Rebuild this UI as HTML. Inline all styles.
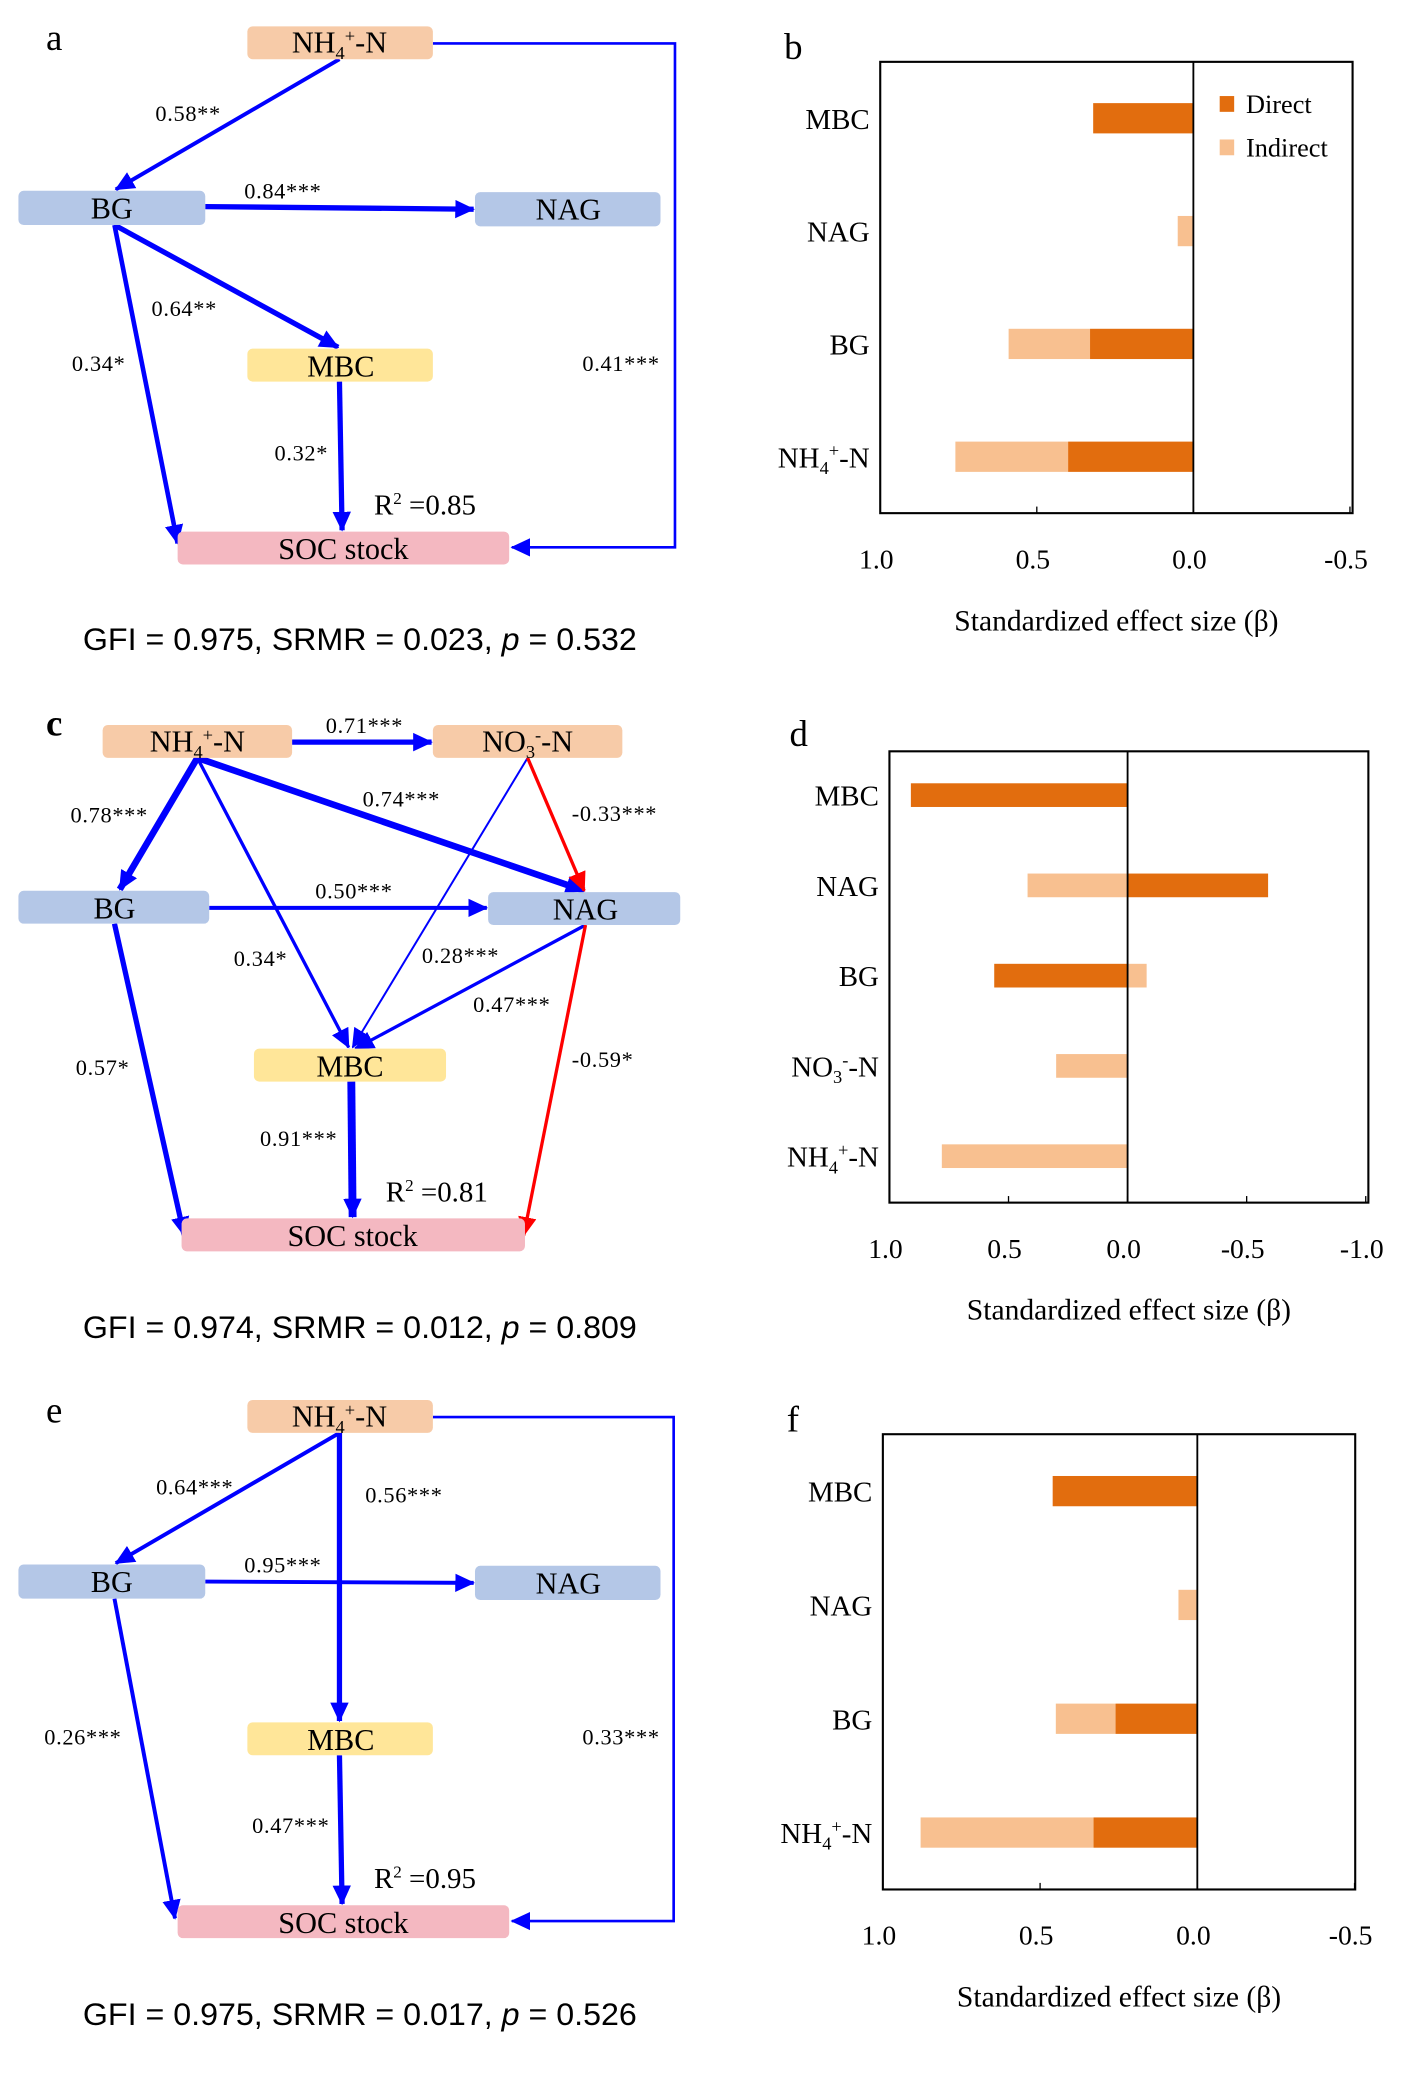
<!DOCTYPE html>
<html><head><meta charset="utf-8"><style>
html,body{margin:0;padding:0;background:#fff;}
svg{display:block;}
text{font-family:"Liberation Serif",serif;fill:#000;}
.node{font-size:23px;}
.el{font-size:17px;letter-spacing:0.5px;}
.gfi{font-family:"Liberation Sans",sans-serif;font-size:24px;}
.letter{font-size:28px;}
.tick{font-size:21px;}
.cat{font-size:22px;}
</style></head><body>
<svg id="fig" width="1421" height="2075" viewBox="0 0 1080 1577" preserveAspectRatio="none" xmlns="http://www.w3.org/2000/svg">
<defs>
<marker id="mb" markerUnits="userSpaceOnUse" markerWidth="16" markerHeight="16" refX="14" refY="8" orient="auto"><path d="M0,1 L15,8 L0,15 Z" fill="#0000ff"/></marker>
<marker id="mr" markerUnits="userSpaceOnUse" markerWidth="16" markerHeight="16" refX="14" refY="8" orient="auto"><path d="M0,1 L15,8 L0,15 Z" fill="#ff0000"/></marker>
</defs>

<!-- Panel a -->
<g>
<text class="letter" x="35" y="38">a</text>
<line x1="258" y1="45" x2="88" y2="144" stroke="#0000ff" stroke-width="3" marker-end="url(#mb)"/>
<line x1="156" y1="157" x2="360" y2="159" stroke="#0000ff" stroke-width="4" marker-end="url(#mb)"/>
<line x1="87" y1="171" x2="257" y2="264" stroke="#0000ff" stroke-width="4" marker-end="url(#mb)"/>
<line x1="87" y1="171" x2="135" y2="413" stroke="#0000ff" stroke-width="3.5" marker-end="url(#mb)"/>
<line x1="258" y1="290" x2="260" y2="403" stroke="#0000ff" stroke-width="4" marker-end="url(#mb)"/>
<polyline points="329,33 513,33 513,416 389,416" fill="none" stroke="#0000ff" stroke-width="2" marker-end="url(#mb)"/>
<rect x="188" y="20" width="141" height="25" rx="4" fill="#f7cba8"/>
<text class="node" x="258" y="40" text-anchor="middle">NH<tspan font-size="14" dy="5">4</tspan><tspan font-size="14" dy="-13">+</tspan><tspan dy="8">-N</tspan></text>
<rect x="14" y="145" width="142" height="26" rx="4" fill="#b4c7e7"/>
<text class="node" x="85" y="166" text-anchor="middle">BG</text>
<rect x="361" y="146" width="141" height="26" rx="4" fill="#b4c7e7"/>
<text class="node" x="432" y="167" text-anchor="middle">NAG</text>
<rect x="188" y="265" width="141" height="25" rx="4" fill="#ffe699"/>
<text class="node" x="259" y="286" text-anchor="middle">MBC</text>
<rect x="135" y="404" width="252" height="25" rx="4" fill="#f4b8c1"/>
<text class="node" x="261" y="425" text-anchor="middle">SOC stock</text>
<text class="el" x="143" y="92" text-anchor="middle">0.58**</text>
<text class="el" x="215" y="151" text-anchor="middle">0.84***</text>
<text class="el" x="140" y="240" text-anchor="middle">0.64**</text>
<text class="el" x="75" y="282" text-anchor="middle">0.34*</text>
<text class="el" x="472" y="282" text-anchor="middle">0.41***</text>
<text class="el" x="229" y="350" text-anchor="middle">0.32*</text>
<text x="323" y="391" text-anchor="middle" font-size="22">R<tspan font-size="13" dy="-8">2</tspan><tspan dy="8"> =0.85</tspan></text>
<text class="gfi" x="63" y="494" textLength="421" lengthAdjust="spacingAndGlyphs">GFI = 0.975, SRMR = 0.023, <tspan font-style="italic">p</tspan> = 0.532</text>
</g>

<!-- Panel c -->
<g>
<text class="letter" x="35" y="559" font-weight="bold">c</text>
<line x1="222" y1="564" x2="328" y2="564" stroke="#0000ff" stroke-width="4" marker-end="url(#mb)"/>
<line x1="150" y1="576" x2="91" y2="676" stroke="#0000ff" stroke-width="5" marker-end="url(#mb)"/>
<line x1="150" y1="576" x2="444" y2="677" stroke="#0000ff" stroke-width="5" marker-end="url(#mb)"/>
<line x1="150" y1="576" x2="265" y2="796" stroke="#0000ff" stroke-width="2.5" marker-end="url(#mb)"/>
<line x1="401" y1="576" x2="268" y2="796" stroke="#0000ff" stroke-width="1.5" marker-end="url(#mb)"/>
<line x1="401" y1="576" x2="444" y2="677" stroke="#ff0000" stroke-width="2.5" marker-end="url(#mr)"/>
<line x1="159" y1="690" x2="370" y2="690" stroke="#0000ff" stroke-width="3" marker-end="url(#mb)"/>
<line x1="445" y1="703" x2="270" y2="797" stroke="#0000ff" stroke-width="2.5" marker-end="url(#mb)"/>
<line x1="87" y1="702" x2="140" y2="939" stroke="#0000ff" stroke-width="4" marker-end="url(#mb)"/>
<line x1="267" y1="822" x2="268" y2="925" stroke="#0000ff" stroke-width="6" marker-end="url(#mb)"/>
<line x1="445" y1="703" x2="398" y2="939" stroke="#ff0000" stroke-width="2.5" marker-end="url(#mr)"/>
<rect x="78" y="551" width="144" height="25" rx="4" fill="#f7cba8"/>
<text class="node" x="150" y="571" text-anchor="middle">NH<tspan font-size="14" dy="5">4</tspan><tspan font-size="14" dy="-13">+</tspan><tspan dy="8">-N</tspan></text>
<rect x="329" y="551" width="144" height="25" rx="4" fill="#f7cba8"/>
<text class="node" x="401" y="571" text-anchor="middle">NO<tspan font-size="14" dy="5">3</tspan><tspan font-size="14" dy="-13">-</tspan><tspan dy="8">-N</tspan></text>
<rect x="14" y="677" width="145" height="25" rx="4" fill="#b4c7e7"/>
<text class="node" x="87" y="698" text-anchor="middle">BG</text>
<rect x="371" y="678" width="146" height="25" rx="4" fill="#b4c7e7"/>
<text class="node" x="445" y="699" text-anchor="middle">NAG</text>
<rect x="193" y="797" width="146" height="25" rx="4" fill="#ffe699"/>
<text class="node" x="266" y="818" text-anchor="middle">MBC</text>
<rect x="138" y="926" width="261" height="25" rx="4" fill="#f4b8c1"/>
<text class="node" x="268" y="947" text-anchor="middle">SOC stock</text>
<text class="el" x="277" y="557" text-anchor="middle">0.71***</text>
<text class="el" x="83" y="625" text-anchor="middle">0.78***</text>
<text class="el" x="305" y="613" text-anchor="middle">0.74***</text>
<text class="el" x="467" y="624" text-anchor="middle">-0.33***</text>
<text class="el" x="269" y="683" text-anchor="middle">0.50***</text>
<text class="el" x="198" y="734" text-anchor="middle">0.34*</text>
<text class="el" x="350" y="732" text-anchor="middle">0.28***</text>
<text class="el" x="389" y="769" text-anchor="middle">0.47***</text>
<text class="el" x="78" y="817" text-anchor="middle">0.57*</text>
<text class="el" x="458" y="811" text-anchor="middle">-0.59*</text>
<text class="el" x="227" y="871" text-anchor="middle">0.91***</text>
<text x="332" y="913" text-anchor="middle" font-size="22">R<tspan font-size="13" dy="-8">2</tspan><tspan dy="8"> =0.81</tspan></text>
<text class="gfi" x="63" y="1017" textLength="421" lengthAdjust="spacingAndGlyphs">GFI = 0.974, SRMR = 0.012, <tspan font-style="italic">p</tspan> = 0.809</text>
</g>

<!-- Panel e -->
<g>
<text class="letter" x="35" y="1081">e</text>
<line x1="258" y1="1089" x2="88" y2="1188" stroke="#0000ff" stroke-width="3" marker-end="url(#mb)"/>
<line x1="258" y1="1089" x2="258" y2="1308" stroke="#0000ff" stroke-width="4" marker-end="url(#mb)"/>
<line x1="156" y1="1202" x2="360" y2="1203" stroke="#0000ff" stroke-width="3" marker-end="url(#mb)"/>
<line x1="87" y1="1215" x2="133" y2="1458" stroke="#0000ff" stroke-width="3" marker-end="url(#mb)"/>
<line x1="258" y1="1334" x2="260" y2="1447" stroke="#0000ff" stroke-width="4" marker-end="url(#mb)"/>
<polyline points="329,1077 512,1077 512,1460 389,1460" fill="none" stroke="#0000ff" stroke-width="2" marker-end="url(#mb)"/>
<rect x="188" y="1064" width="141" height="25" rx="4" fill="#f7cba8"/>
<text class="node" x="258" y="1084" text-anchor="middle">NH<tspan font-size="14" dy="5">4</tspan><tspan font-size="14" dy="-13">+</tspan><tspan dy="8">-N</tspan></text>
<rect x="14" y="1189" width="142" height="26" rx="4" fill="#b4c7e7"/>
<text class="node" x="85" y="1210" text-anchor="middle">BG</text>
<rect x="361" y="1190" width="141" height="26" rx="4" fill="#b4c7e7"/>
<text class="node" x="432" y="1211" text-anchor="middle">NAG</text>
<rect x="188" y="1309" width="141" height="25" rx="4" fill="#ffe699"/>
<text class="node" x="259" y="1330" text-anchor="middle">MBC</text>
<rect x="135" y="1448" width="252" height="25" rx="4" fill="#f4b8c1"/>
<text class="node" x="261" y="1469" text-anchor="middle">SOC stock</text>
<text class="el" x="148" y="1136" text-anchor="middle">0.64***</text>
<text class="el" x="307" y="1142" text-anchor="middle">0.56***</text>
<text class="el" x="215" y="1195" text-anchor="middle">0.95***</text>
<text class="el" x="63" y="1326" text-anchor="middle">0.26***</text>
<text class="el" x="472" y="1326" text-anchor="middle">0.33***</text>
<text class="el" x="221" y="1393" text-anchor="middle">0.47***</text>
<text x="323" y="1435" text-anchor="middle" font-size="22">R<tspan font-size="13" dy="-8">2</tspan><tspan dy="8"> =0.95</tspan></text>
<text class="gfi" x="63" y="1539" textLength="421" lengthAdjust="spacingAndGlyphs">GFI = 0.975, SRMR = 0.017, <tspan font-style="italic">p</tspan> = 0.526</text>
</g>

<g id="charts"></g>
</svg>
<script>
// Panel b
const bCats = ["MBC", "NAG", "BG", "NH4+-N"];
const bDirect = [0.32, 0, 0.33, 0.40];
const bIndirect = [0, 0.05, 0.26, 0.36];
const bTicks = [1.0, 0.5, 0.0, -0.5];
// Panel d
const dCats = ["MBC", "NAG", "BG", "NO3--N", "NH4+-N"];
const dDirect = [0.91, -0.59, 0.56, 0, 0];
const dIndirect = [0, 0.42, -0.08, 0.30, 0.78];
const dTicks = [1.0, 0.5, 0.0, -0.5, -1.0];
// Panel f
const fCats = ["MBC", "NAG", "BG", "NH4+-N"];
const fDirect = [0.46, 0, 0.26, 0.33];
const fIndirect = [0, 0.06, 0.19, 0.55];
const fTicks = [1.0, 0.5, 0.0, -0.5];

const NS = "http://www.w3.org/2000/svg";
const root = document.getElementById("charts");
function mk(tag, attrs, parent) {
  const e = document.createElementNS(NS, tag);
  for (const k in attrs) e.setAttribute(k, attrs[k]);
  parent.appendChild(e);
  return e;
}
function catLabel(g, name, x, y) {
  const t = mk("text", {x: x, y: y, "text-anchor": "end", class: "cat"}, g);
  
  
  const m = name.match(/^(NH|NO)(\d)([+-])-N$/);
  if (m) {
    t.appendChild(document.createTextNode(m[1]));
    const s1 = mk("tspan", {"font-size": 14, dy: 5}, t); s1.textContent = m[2];
    const s2 = mk("tspan", {"font-size": 14, dy: -13}, t); s2.textContent = m[3];
    const s3 = mk("tspan", {dy: 8}, t); s3.textContent = "-N";
  } else t.textContent = name;
}
function chart(o) {
  const g = mk("g", {}, root);
  
  
  const x = v => o.zero - v * o.scale;
  const n = o.cats.length;
  const step = (o.y1 - o.y0) / n;
  const yc = i => o.y0 + step * (i + 0.5) + o.yoff;
  for (let i = 0; i < n; i++) {
    const dv = o.direct[i], iv = o.indirect[i];
    const ind0 = (dv !== 0 && Math.sign(iv) === Math.sign(dv)) ? dv : 0;
    if (iv !== 0) {
      const a = x(ind0), b = x(ind0 + iv);
      const r = mk("rect", {x: Math.min(a, b), y: yc(i) - o.bh / 2, width: Math.abs(a - b), height: o.bh, fill: "#f8c090"}, g);
      
      
    }
    if (dv !== 0) {
      const a = x(0), b = x(dv);
      const r = mk("rect", {x: Math.min(a, b), y: yc(i) - o.bh / 2, width: Math.abs(a - b), height: o.bh, fill: "#e26d0e"}, g);
      
      
    }
    catLabel(g, o.cats[i], o.x0 - 8, yc(i) + 8);
  }
  const fr = mk("rect", {x: o.x0, y: o.y0, width: o.x1 - o.x0, height: o.y1 - o.y0, fill: "none", stroke: "#000", "stroke-width": 1.6}, g);
  
  
  const zl = mk("line", {x1: x(0), y1: o.y0, x2: x(0), y2: o.y1, stroke: "#000", "stroke-width": 1.4}, g);
  
  
  o.ticks.forEach(v => {
    mk("line", {x1: x(v), y1: o.y1, x2: x(v), y2: o.y1 - 5, stroke: "#000", "stroke-width": 1}, g);
    const t = mk("text", {x: x(v) - 3, y: o.y1 + 42, "text-anchor": "middle", class: "tick"}, g);
    
    
    t.textContent = v.toFixed(1);
  });
  const xl = mk("text", {x: (o.x0 + o.x1) / 2, y: o.y1 + 89, "text-anchor": "middle", "font-size": 22.5}, g);
  
  
  xl.textContent = "Standardized effect size (\u03b2)";
  const lt = mk("text", {x: o.lx, y: o.ly, class: "letter"}, g);
  
  
  lt.textContent = o.letter;
  if (o.legend) {
    const items = [["Direct", "#e26d0e", 79], ["Indirect", "#f8c090", 112]];
    items.forEach(it => {
      const sw = mk("rect", {x: 927, y: it[2] - 6, width: 11, height: 12, fill: it[1]}, g);
      
      
      const lt2 = mk("text", {x: 947, y: it[2] + 7, "font-size": 20}, g);
      
      
      lt2.textContent = it[0];
    });
  }
}
chart({name: "bar-chart-b", cats: bCats, direct: bDirect, indirect: bIndirect, ticks: bTicks, zero: 907, scale: 238, x0: 669, x1: 1028, y0: 47, y1: 390, bh: 23, yoff: 0, letter: "b", lx: 596, ly: 45, legend: true});
chart({name: "bar-chart-d", cats: dCats, direct: dDirect, indirect: dIndirect, ticks: dTicks, zero: 857, scale: 181, x0: 676, x1: 1040, y0: 571, y1: 914, bh: 18, yoff: -1, letter: "d", lx: 600, ly: 567});
chart({name: "bar-chart-f", cats: fCats, direct: fDirect, indirect: fIndirect, ticks: fTicks, zero: 910, scale: 239, x0: 671, x1: 1030, y0: 1090, y1: 1436, bh: 23, yoff: 0, letter: "f", lx: 598, ly: 1088});
</script>
</body></html>
